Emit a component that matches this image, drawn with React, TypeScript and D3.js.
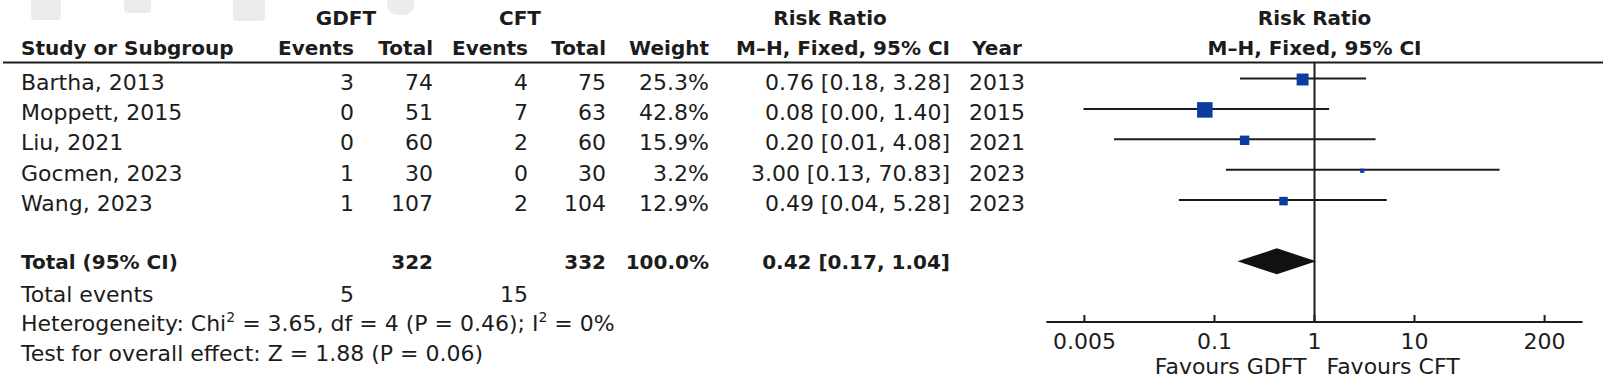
import * as d3 from "d3";

// study rows
const studies = ["Bartha, 2013", "Moppett, 2015", "Liu, 2021", "Gocmen, 2023", "Wang, 2023"];
const gdftEvents = [3, 0, 0, 1, 1];
const gdftTotal = [74, 51, 60, 30, 107];
const cftEvents = [4, 7, 2, 0, 2];
const cftTotal = [75, 63, 60, 30, 104];
const weights = [25.3, 42.8, 15.9, 3.2, 12.9];
const riskRatio = [0.76, 0.08, 0.2, 3.0, 0.49];
const ciLow = [0.18, 0.0049, 0.0099, 0.13, 0.044];
const ciHigh = [3.28, 1.4, 4.08, 70.83, 5.28];
const years = [2013, 2015, 2021, 2023, 2023];

// pooled estimate
const pooledRR = 0.42;
const pooledLow = 0.17;
const pooledHigh = 1.04;
const pooledWeight = 100.0;

const axisTicks = [0.005, 0.1, 1, 10, 200];
const heterogeneity = {chi2: "3.65", df: "4", p: "0.46", i2: "0%"};
const overall = {z: "1.88", p: "0.06"};

const W = 1624;
const H = 386;
const FONT = "'DejaVu Sans', Verdana, sans-serif";
const INK = "#1c1c1c";
const BLUE = "#0b3ca0";

// columns (right edges unless noted)
const col = {
    study: 21,
    gEv: 354,
    gTot: 433,
    cEv: 528,
    cTot: 606,
    weight: 709,
    ci: 950,
    year: 997, // centre
};

export default function App() {
    const x = d3.scaleLog().domain([0.005, 200]).range([1084.4, 1544.6]);
    const y = d3.scaleLinear().domain([0, 1]).range([78.5, 108.9]);
    const size = d3.scaleSqrt().domain([0, d3.max(weights) as number]).range([0, 15.5]);

    const x1 = x(1);
    const ruleY = 62.5;
    const totalY = 261.3;
    const axisY = 322;
    const axisPad = 38;
    const baseOff = 11;

    const fmt2 = (v: number) => v.toFixed(2);
    const ciText = (r: number, l: number, h: number) => `${fmt2(r)} [${fmt2(l)}, ${fmt2(h)}]`;

    const diamond = [
        [x(pooledLow), totalY],
        [x(pooledRR), totalY - 13],
        [x(pooledHigh), totalY],
        [x(pooledRR), totalY + 13],
    ] as [number, number][];

    const txt = {fontFamily: FONT, fontSize: 22, fill: INK};
    const bold = {fontFamily: FONT, fontSize: 20, fill: INK, fontWeight: "bold"};

    return (
        <div style={{position: "absolute", left: 0, top: 0, background: "#fff"}}>
            <svg width={W} height={H} viewBox={`0 0 ${W} ${H}`}>
                <rect width={W} height={H} fill="#fff"/>
                {/* faint watermark shapes */}
                <g fill="#ececec">
                    <rect x={31} y={-6} width={30} height={26} rx={4}/>
                    <rect x={124} y={-6} width={27} height={19} rx={4}/>
                    <rect x={233} y={-6} width={32} height={27} rx={4}/>
                    <rect x={387} y={-6} width={27} height={21} rx={10}/>
                </g>

                <g {...bold}>
                    <text x={346} y={25} textAnchor="middle">GDFT</text>
                    <text x={520} y={25} textAnchor="middle">CFT</text>
                    <text x={830} y={25} textAnchor="middle">Risk Ratio</text>
                    <text x={x1} y={25} textAnchor="middle">Risk Ratio</text>

                    <text x={col.study} y={55}>Study or Subgroup</text>
                    <text x={col.gEv} y={55} textAnchor="end">Events</text>
                    <text x={col.gTot} y={55} textAnchor="end">Total</text>
                    <text x={col.cEv} y={55} textAnchor="end">Events</text>
                    <text x={col.cTot} y={55} textAnchor="end">Total</text>
                    <text x={col.weight} y={55} textAnchor="end">Weight</text>
                    <text x={col.ci} y={55} textAnchor="end">M–H, Fixed, 95% CI</text>
                    <text x={col.year} y={55} textAnchor="middle">Year</text>
                    <text x={x1} y={55} textAnchor="middle">M–H, Fixed, 95% CI</text>
                </g>

                <line x1={3} x2={1603} y1={ruleY} y2={ruleY} stroke={INK} strokeWidth={2}/>

                {/* study rows */}
                {studies.map((s, i) => {
                    const by = y(i) + baseOff;
                    return (
                        <g key={s} {...txt}>
                            <text x={col.study} y={by}>{s}</text>
                            <text x={col.gEv} y={by} textAnchor="end">{gdftEvents[i]}</text>
                            <text x={col.gTot} y={by} textAnchor="end">{gdftTotal[i]}</text>
                            <text x={col.cEv} y={by} textAnchor="end">{cftEvents[i]}</text>
                            <text x={col.cTot} y={by} textAnchor="end">{cftTotal[i]}</text>
                            <text x={col.weight} y={by} textAnchor="end">{weights[i].toFixed(1)}%</text>
                            <text x={col.ci} y={by} textAnchor="end">{ciText(riskRatio[i], ciLow[i], ciHigh[i])}</text>
                            <text x={col.year} y={by} textAnchor="middle">{years[i]}</text>
                        </g>
                    );
                })}

                {/* total row */}
                <g {...bold}>
                    <text x={col.study} y={totalY + 8}>Total (95% CI)</text>
                    <text x={col.gTot} y={totalY + 8} textAnchor="end">{d3.sum(gdftTotal)}</text>
                    <text x={col.cTot} y={totalY + 8} textAnchor="end">{d3.sum(cftTotal)}</text>
                    <text x={col.weight} y={totalY + 8} textAnchor="end">{pooledWeight.toFixed(1)}%</text>
                    <text x={col.ci} y={totalY + 8} textAnchor="end">{ciText(pooledRR, pooledLow, pooledHigh)}</text>
                </g>
                <g {...txt}>
                    <text x={col.study} y={302}>Total events</text>
                    <text x={col.gEv} y={302} textAnchor="end">{d3.sum(gdftEvents)}</text>
                    <text x={col.cEv} y={302} textAnchor="end">{d3.sum(cftEvents)}</text>
                    <text x={col.study} y={331}>
                        Heterogeneity: Chi<tspan dy={-9} fontSize={14}>2</tspan>
                        <tspan dy={9}>{` = ${heterogeneity.chi2}, df = ${heterogeneity.df} (P = ${heterogeneity.p}); I`}</tspan>
                        <tspan dy={-9} fontSize={14}>2</tspan>
                        <tspan dy={9}>{` = ${heterogeneity.i2}`}</tspan>
                    </text>
                    <text x={col.study} y={361}>{`Test for overall effect: Z = ${overall.z} (P = ${overall.p})`}</text>
                </g>

                {/* forest plot */}
                <line x1={x1} x2={x1} y1={ruleY} y2={axisY} stroke={INK} strokeWidth={2}/>
                {studies.map((s, i) => {
                    const yy = y(i);
                    const sz = size(weights[i]);
                    return (
                        <g key={s}>
                            <line x1={x(ciLow[i])} x2={x(ciHigh[i])} y1={yy} y2={yy} stroke={INK} strokeWidth={2}/>
                            <rect x={x(riskRatio[i]) - sz / 2} y={yy - sz / 2 + 1} width={sz} height={sz} fill={BLUE}/>
                        </g>
                    );
                })}
                <path d={(d3.line()(diamond) as string) + "Z"} fill="#111"/>

                {/* axis */}
                <line x1={x(0.005) - axisPad} x2={x(200) + axisPad} y1={axisY} y2={axisY} stroke={INK} strokeWidth={2}/>
                {axisTicks.map(t => (
                    <g key={t}>
                        <line x1={x(t)} x2={x(t)} y1={axisY} y2={axisY - 7} stroke={INK} strokeWidth={2}/>
                        <text x={x(t)} y={349} textAnchor="middle" {...txt}>{String(t)}</text>
                    </g>
                ))}
                <text x={x1 - 8} y={374} textAnchor="end" {...txt}>Favours GDFT</text>
                <text x={x1 + 12} y={374} {...txt}>Favours CFT</text>
            </svg>
        </div>
    );
}
